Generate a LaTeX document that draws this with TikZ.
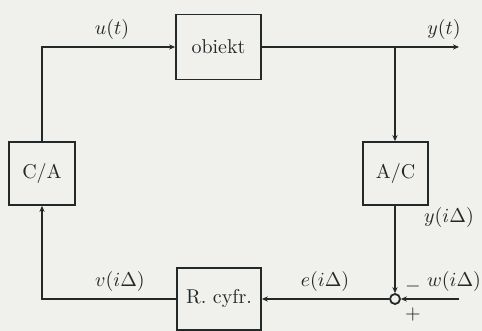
\documentclass[tikz,border=0pt]{standalone}
\usetikzlibrary{arrows.meta}
\definecolor{bg}{RGB}{240,240,237}
\definecolor{ink}{RGB}{35,40,40}
\begin{document}
\begin{tikzpicture}[x=0.5pt,y=-0.5pt,
  blk/.style={draw=ink,line width=0.9pt,fill=bg,inner sep=0pt,text=ink},
  lbl/.style={inner sep=0pt,text=ink},
  conn/.style={draw=ink,line width=0.9pt,-{Stealth[length=3pt,width=2.6pt]}},
  plain/.style={draw=ink,line width=0.9pt}]
\fill[bg] (0,0) rectangle (482,331);
\useasboundingbox (0,0) rectangle (482,331);
\node[blk,minimum width=42.5pt,minimum height=32.5pt] (obj) at (218.5,47) {obiekt};
\node[blk,minimum width=33pt,minimum height=31.5pt] (CA) at (42,173.5) {C/A};
\node[blk,minimum width=32.5pt,minimum height=31.5pt] (AC) at (395.5,173.5) {A/C};
\node[blk,minimum width=42pt,minimum height=31pt] (R) at (219,299) {R. cyfr.};
\node[draw=ink,line width=0.9pt,circle,minimum size=5pt,inner sep=0pt] (sum) at (395,299) {};
\coordinate (out) at (459,47);
\coordinate (br) at (395,47);
\coordinate (win) at (459,299);
\draw[conn] (CA.north) |- (obj.west);
\draw[conn] (obj.east) -- (out);
\draw[conn] (br) -- (br |- AC.north);
\draw[conn] (AC.south -| sum) -- (sum.north);
\draw[conn] (win) -- (sum.east);
\draw[conn] (sum.west) -- (R.east);
\draw[conn] (R.west) -| (CA.south);
\node[lbl] (lu) at (112,30) {$u(t)$};
\node[lbl] (ly) at (444,30) {$y(t)$};
\node[lbl] (lyi) at (449,218) {$y(i\Delta)$};
\node[lbl] (lv) at (120,282) {$v(i\Delta)$};
\node[lbl] (le) at (325,282) {$e(i\Delta)$};
\node[lbl] (lw) at (454,281) {$w(i\Delta)$};
\node[lbl] (lm) at (413,287) {$-$};
\node[lbl] (lp) at (413,315) {$+$};
\end{tikzpicture}
\end{document}
